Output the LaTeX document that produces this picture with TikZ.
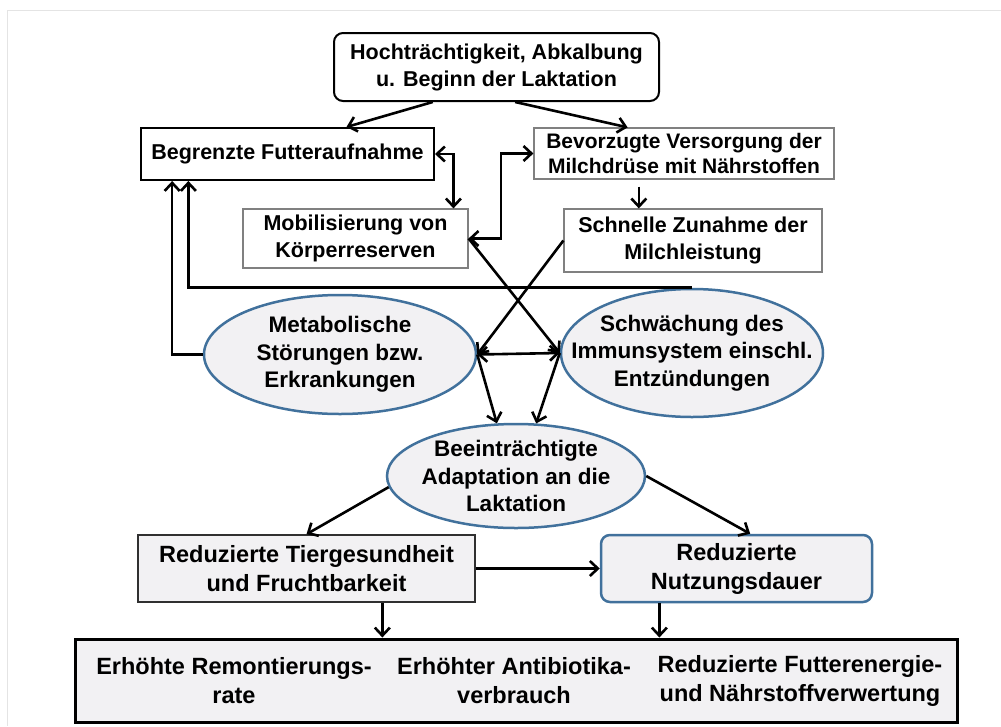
\documentclass[tikz,border=0pt]{standalone}
\usepackage{fontspec}
\setmainfont{Liberation Sans}
\usetikzlibrary{arrows.meta,calc,shapes.geometric}
\definecolor{eblue}{HTML}{41719C}
\definecolor{efill}{HTML}{F2F1F3}
\definecolor{gbord}{HTML}{808080}
\definecolor{framec}{HTML}{E4E4E4}
\definecolor{tbord}{HTML}{303030}
\begin{document}
\begin{tikzpicture}[x=1pt,y=-1pt,
 tipb/.tip={Straight Barb[length=8pt,width=15pt]},
 arr/.style={line width=2.6pt,-tipb},
 darr/.style={line width=2.6pt,tipb-tipb},
 boxtxt/.style={font=\fontsize{21.5}{27}\selectfont\bfseries, align=center, inner sep=0pt},
 blackbox/.style={boxtxt, draw=black, line width=2pt, fill=white},
 graybox/.style={boxtxt, draw=gbord, line width=1.2pt, fill=white},
 ell/.style={ellipse, draw=eblue, line width=2.5pt, fill=efill, inner sep=0pt},
 elltxt/.style={font=\fontsize{22.5}{27.5}\selectfont\bfseries, align=center, inner sep=0pt},
 lowtxt/.style={font=\fontsize{23.5}{29}\selectfont\bfseries, align=center, inner sep=0pt},
]
\useasboundingbox (0,0) rectangle (1001,726);
\draw[framec, line width=1pt] (7,726) -- (7,10) -- (1001,10);

% boxes
\node[blackbox, rounded corners=9pt, minimum width=325pt, minimum height=68pt] (top) at (496.5,67) {Hochträchtigkeit, Abkalbung\\u. Beginn der Laktation};
\node[blackbox, minimum width=293pt, minimum height=52pt] (begr) at (287.5,154) {Begrenzte Futteraufnahme};
\node[graybox, minimum width=225pt, minimum height=59pt] (mob) at (355.5,238.5) {Mobilisierung von\\Körperreserven};
\node[graybox, font=\fontsize{21}{25}\selectfont\bfseries, minimum width=300pt, minimum height=51pt] (bev) at (684,153.5) {Bevorzugte Versorgung der\\Milchdrüse mit Nährstoffen};
\node[graybox, minimum width=258pt, minimum height=63pt] (sch) at (693,240.5) {Schnelle Zunahme der\\Milchleistung};

% ellipses
\node[ell, minimum width=272pt, minimum height=119pt] (met) at (340,354.5) {};
\node[elltxt] (metT) at (met) {Metabolische\\Störungen bzw.\\Erkrankungen};
\node[ell, minimum width=262pt, minimum height=128pt] (schw) at (692,353) {};
\node[elltxt] (schwT) at (schw) {Schwächung des\\Immunsystem einschl.\\Entzündungen};
\node[ell, minimum width=258pt, minimum height=104pt] (bee) at (516,476) {};
\node[elltxt] (beeT) at (bee) {Beeinträchtigte\\Adaptation an die\\Laktation};

% lower boxes
\node[lowtxt, draw=tbord, line width=1.6pt, fill=efill, minimum width=337pt, minimum height=67pt] (tier) at (306.5,568.5) {Reduzierte Tiergesundheit\\und Fruchtbarkeit};
\node[lowtxt, draw=eblue, line width=2.5pt, fill=efill, rounded corners=9pt, minimum width=271pt, minimum height=67pt] (nutz) at (736.5,568.5) {Reduzierte\\Nutzungsdauer};
\node[draw=black, line width=3pt, fill=efill, minimum width=882pt, minimum height=83pt, inner sep=0pt] (bot) at (516,680.5) {};
\node[lowtxt] (b1) at (234,681) {Erhöhte Remontierungs-\\rate};
\node[lowtxt] (b2) at (514,681) {Erhöhter Antibiotika-\\verbrauch};
\node[lowtxt] (b3) at (800,681) {Reduzierte Futterenergie-\\und Nährstoffverwertung};

% connectors
\draw[arr] ($(top.south west)!0.305!(top.south east)$) -- ($(begr.north west)!0.70!(begr.north east)$);
\draw[arr] ($(top.south west)!0.557!(top.south east)$) -- ($(bev.north west)!0.313!(bev.north east)$);
\draw[darr] (begr.east) -| ($(mob.north west)!0.933!(mob.north east)$);
\coordinate (m1) at ($(mob.east)!0.5!(bev.west)$);
\draw[darr] (mob.east) -| (m1) |- (bev.west);
\coordinate (bs) at ($(bev.south west)!0.35!(bev.south east)$);
\draw[arr] ([yshift=-7pt]bs) -- (bs |- sch.north);
\draw[arr] (mob.east) -- (schw.west);
\draw[arr] (sch.west) -- (met.east);
\draw[darr] (met.east) -- (schw.west);
\draw[arr] (met.east) -- (bee.110);
\draw[arr] (schw.west) -- (bee.69);
\draw[arr] (schw.north) -| ($(begr.south west)!0.164!(begr.south east)$);
\draw[arr] (met.west) -| ($(begr.south west)!0.109!(begr.south east)$);
\draw[arr] (bee.185) -- (tier.north);
\draw[arr] (bee.east) -- ($(nutz.north west)!0.55!(nutz.north east)$);
\draw[arr] (tier.east) -- (nutz.west);
\coordinate (t1) at ($(tier.south west)!0.724!(tier.south east)$);
\draw[arr] (t1) -- (t1 |- bot.north);
\coordinate (n1) at ($(nutz.south west)!0.218!(nutz.south east)$);
\draw[arr] (n1) -- (n1 |- bot.north);
\end{tikzpicture}
\end{document}
